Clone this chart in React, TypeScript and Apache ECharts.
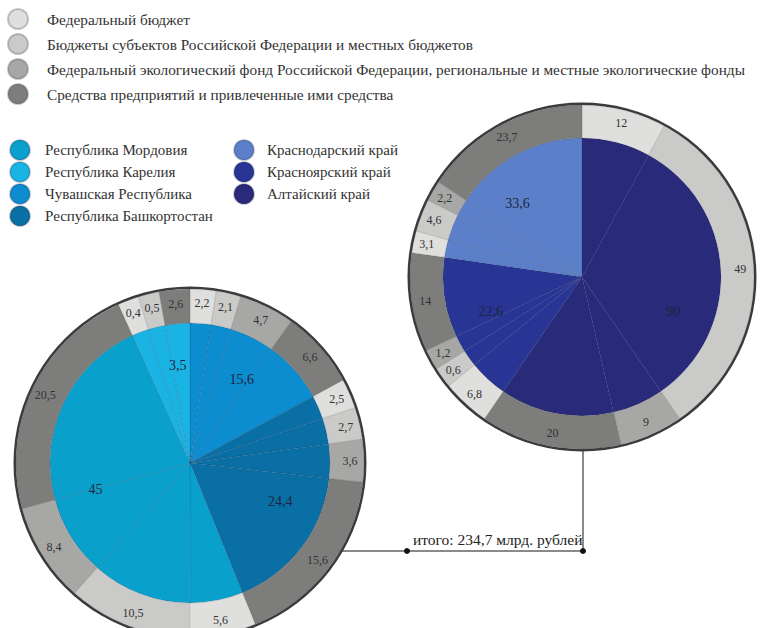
import React, { useEffect, useRef } from "react";
import * as echarts from "echarts";

const sourceNames = [
  "Федеральный бюджет",
  "Бюджеты субъектов Российской Федерации и местных бюджетов",
  "Федеральный экологический фонд Российской Федерации, региональные и местные экологические фонды",
  "Средства предприятий и привлеченные ими средства",
];
const sourceColors = ["#dfdfdd", "#cacac9", "#a7a7a6", "#7d7d7c"];

const leftRegions = ["Чувашская Республика", "Республика Башкортостан", "Республика Мордовия", "Республика Карелия"];
const leftTotals = [15.6, 24.4, 45, 3.5];
const leftColors = ["#0b8dcf", "#0a6fa4", "#0aa0cc", "#1ab4e4"];
const leftFunding: (number | null)[][] = [
  [2.2, 2.1, 4.7, 6.6],
  [2.5, 2.7, 3.6, 15.6],
  [5.6, 10.5, 8.4, 20.5],
  [0.4, 0.5, null, 2.6],
];

const rightRegions = ["Алтайский край", "Красноярский край", "Краснодарский край"];
const rightTotals = [90, 22.6, 33.6];
const rightColors = ["#2a2a7a", "#283594", "#5b80c9"];
const rightFunding: (number | null)[][] = [
  [12, 49, 9, 20],
  [6.8, 0.6, 1.2, 14],
  [3.1, 4.6, 2.2, 23.7],
];

const regionLegendCol1 = ["Республика Мордовия", "Республика Карелия", "Чувашская Республика", "Республика Башкортостан"];
const regionLegendCol2 = ["Краснодарский край", "Красноярский край", "Алтайский край"];

const totalLabel = "итого: 234,7 млрд. рублей";

const FONT = "Liberation Serif";
const fmt = (v: number) => String(v).replace(".", ",");

function pieGroup(
  center: [number, number],
  rIn: number,
  rOut: number,
  regions: string[],
  totals: number[],
  colors: string[],
  funding: (number | null)[][]
) {
  const ring: any[] = [];
  const inner: any[] = [];
  regions.forEach((r, i) => {
    funding[i].forEach((v, j) => {
      if (v == null) return;
      ring.push({ name: sourceNames[j], value: v, itemStyle: { color: sourceColors[j] } });
      inner.push({ name: r, value: v, itemStyle: { color: colors[i] } });
    });
  });
  const common = {
    type: "pie",
    center,
    silent: true,
    emphasis: { disabled: true },
    animation: false,
    startAngle: 90,
    clockwise: true,
  };
  return [
    {
      ...common,
      radius: [0, rIn],
      minAngle: 7,
      data: inner,
      label: { show: false },
      labelLine: { show: false },
      itemStyle: { borderColor: "rgba(15,25,60,0.22)", borderWidth: 0.6 },
    },
    {
      ...common,
      radius: [rIn, rOut],
      minAngle: 7,
      data: ring,
      itemStyle: { borderColor: "rgba(70,70,70,0.3)", borderWidth: 0.5 },
      label: {
        show: true,
        position: "inside",
        formatter: (p: any) => fmt(p.value),
        fontFamily: FONT,
        fontSize: 12,
        color: "#333",
      },
      labelLine: { show: false },
    },
    {
      ...common,
      radius: [rOut, rOut + 2.5],
      data: [{ name: "", value: 1, itemStyle: { color: "#3b3b3b" } }],
      label: { show: false },
      labelLine: { show: false },
    },
    {
      ...common,
      radius: [rIn * 0.36, rIn],
      data: regions.map((r, i) => ({ name: r, value: totals[i], itemStyle: { color: "rgba(0,0,0,0)" } })),
      label: {
        show: true,
        position: "inside",
        formatter: (p: any) => fmt(p.value),
        fontFamily: FONT,
        fontSize: 14,
        color: "#1e2540",
      },
      labelLine: { show: false },
    },
  ];
}

export default function App() {
  const ref = useRef<HTMLDivElement>(null);
  useEffect(() => {
    if (!ref.current) return;
    const chart = echarts.init(ref.current, null, { renderer: "svg" });
    chart.setOption({
      animation: false,
      textStyle: { fontFamily: FONT },
      legend: [
        {
          orient: "vertical",
          left: 2,
          top: 3,
          itemWidth: 40,
          itemHeight: 20,
          itemGap: 3,
          icon: "circle",
          selectedMode: false,
          data: sourceNames,
          textStyle: { fontFamily: FONT, fontSize: 15.3, color: "#333", padding: [0, 0, 0, 4] },
        },
        {
          orient: "vertical",
          left: 4,
          top: 134,
          itemWidth: 36,
          itemHeight: 20,
          itemGap: 0,
          icon: "circle",
          selectedMode: false,
          data: regionLegendCol1,
          textStyle: { fontFamily: FONT, fontSize: 15, color: "#333", padding: [0, 0, 0, 2] },
        },
        {
          orient: "vertical",
          left: 228,
          top: 134,
          itemWidth: 34,
          itemHeight: 20,
          itemGap: 0,
          icon: "circle",
          selectedMode: false,
          data: regionLegendCol2,
          textStyle: { fontFamily: FONT, fontSize: 15, color: "#333", padding: [0, 0, 0, 1] },
        },
      ],
      graphic: [
        { type: "line", shape: { x1: 300, y1: 551, x2: 583, y2: 551 }, style: { stroke: "#8a8a8a", lineWidth: 2 } },
        { type: "line", shape: { x1: 583, y1: 430, x2: 583, y2: 551 }, style: { stroke: "#8a8a8a", lineWidth: 2 } },
        { type: "circle", shape: { cx: 407, cy: 551, r: 3 }, style: { fill: "#111" } },
        { type: "circle", shape: { cx: 583, cy: 551, r: 3 }, style: { fill: "#111" } },
        {
          type: "text",
          x: 413,
          y: 531,
          style: { text: totalLabel, fontFamily: FONT, fontSize: 15.5, fill: "#222" },
        },
      ],
      series: [
        ...pieGroup([190, 463], 140, 174, leftRegions, leftTotals, leftColors, leftFunding),
        ...pieGroup([582, 277], 139, 172, rightRegions, rightTotals, rightColors, rightFunding),
      ],
    });
    return () => chart.dispose();
  }, []);
  return (
    <div style={{ fontFamily: FONT }}>
      <div
        ref={ref}
        style={{ position: "absolute", left: 0, top: 0, width: 761, height: 628, background: "#fff" }}
      />
    </div>
  );
}
